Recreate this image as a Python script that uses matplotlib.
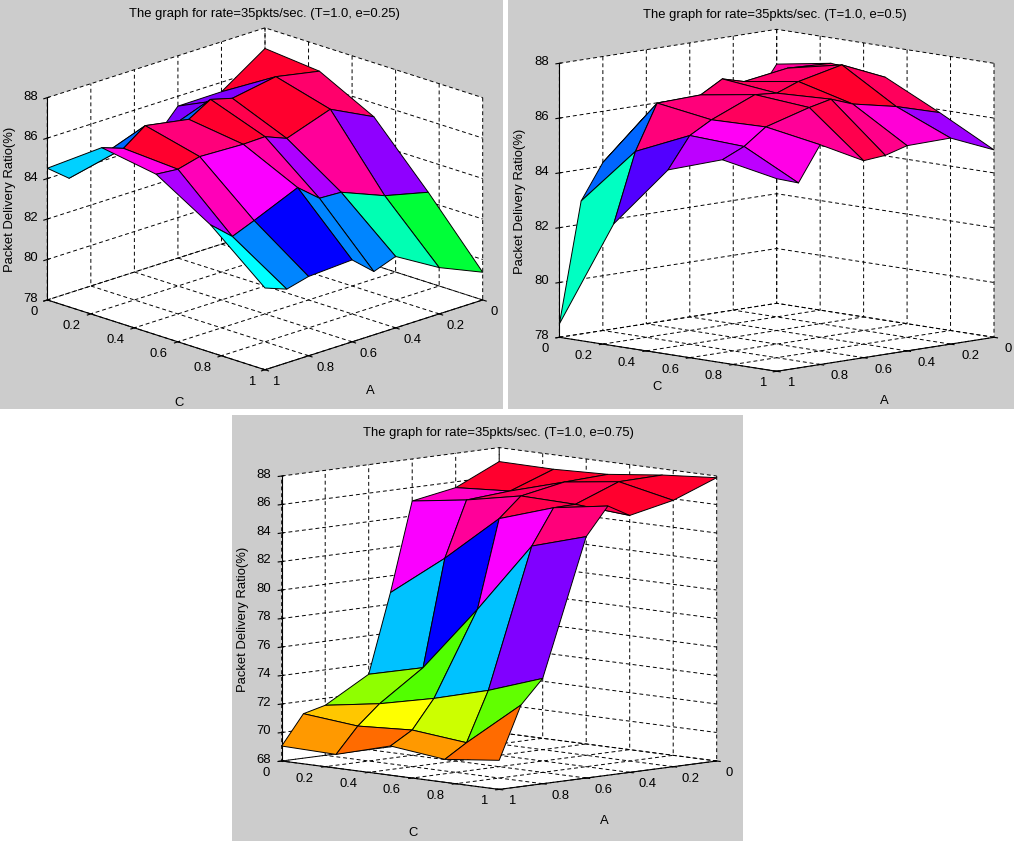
import matplotlib
matplotlib.use("Agg")
import matplotlib.pyplot as plt
import numpy as np
from matplotlib.colors import hsv_to_rgb
from matplotlib.patches import Rectangle
from matplotlib.ticker import NullFormatter
from mpl_toolkits.mplot3d import proj3d

W, H = 1014, 841

A_VALUES = [0, 0.2, 0.4, 0.5, 0.6, 0.8, 0.9, 1]
C_VALUES = [0, 0.25, 0.5, 0.75, 1]
TICKS = [0, 0.2, 0.4, 0.6, 0.8, 1]
TICK_LABELS = ["0", "0.2", "0.4", "0.6", "0.8", "1"]

# delivery ratio, one row per C value, one column per A value
Z_E025 = [
    [86.98, 85.53, 85.51, 84.34, 84.36, 84.08, 83.67, 84.51],
    [86.72, 87.14, 86.76, 87.05, 86.41, 86.79, 86.01, 86.39],
    [85.33, 86.39, 85.64, 86.07, 86.04, 86.12, 85.84, 85.94],
    [82.46, 82.98, 83.84, 83.89, 84.76, 83.82, 83.38, 84.30],
    [79.37, 80.29, 81.53, 81.13, 82.05, 81.92, 81.64, 82.04],
]
Z_E050 = [
    [86.73, 84.48, 84.46, 84.46, 85.62, 84.13, 82.85, 78.49],
    [87.07, 87.14, 86.90, 87.12, 86.66, 86.61, 84.97, 82.45],
    [86.87, 87.57, 87.21, 86.91, 86.98, 86.31, 85.86, 84.73],
    [85.89, 86.36, 86.70, 87.00, 86.82, 86.36, 85.77, 85.41],
    [84.84, 85.52, 85.49, 85.26, 85.19, 86.02, 84.75, 85.03],
]
Z_E075 = [
    [87.02, 85.59, 85.05, 78.82, 73.29, 71.51, 71.12, 69.05],
    [86.98, 85.85, 85.62, 81.73, 74.25, 72.12, 70.75, 68.96],
    [87.12, 86.98, 86.40, 85.01, 78.84, 72.99, 70.97, 70.05],
    [87.57, 87.50, 86.31, 86.27, 83.78, 74.05, 70.58, 69.61],
    [87.88, 86.69, 86.03, 86.89, 84.94, 75.39, 73.72, 70.04],
]

# hue of each quad, one row per C band, one column per A band
HUE_E025 = [
    [0.97, 0.75, 0.75, 0.60, 0.75, 0.60, 0.53],
    [0.93, 0.97, 0.95, 0.97, 0.92, 0.97, 0.85],
    [0.76, 0.90, 0.78, 0.89, 0.83, 0.88, 0.78],
    [0.37, 0.45, 0.58, 0.58, 0.667, 0.58, 0.50],
]
HUE_E050 = [
    [0.90, 0.90, 0.90, 0.93, 0.60, 0.60, 0.46],
    [0.93, 0.93, 0.94, 0.93, 0.92, 0.92, 0.72],
    [0.94, 0.97, 0.96, 0.93, 0.94, 0.84, 0.79],
    [0.77, 0.86, 0.91, 0.95, 0.90, 0.85, 0.79],
]
HUE_E075 = [
    [0.97, 0.87, 0.83, 0.54, 0.24, 0.13, 0.10],
    [0.97, 0.94, 0.90, 0.667, 0.28, 0.167, 0.07],
    [0.97, 0.95, 0.95, 0.83, 0.54, 0.20, 0.10],
    [0.97, 0.97, 0.95, 0.92, 0.75, 0.27, 0.07],
]

Z_TICKS_TOP = [78, 80, 82, 84, 86, 88]
Z_TICKS_BOTTOM = [68, 70, 72, 74, 76, 78, 80, 82, 84, 86, 88]

FONT_SIZE = 9.35

plt.rcParams["font.family"] = ["Liberation Sans", "DejaVu Sans"]
plt.rcParams["font.size"] = FONT_SIZE
plt.rcParams["grid.color"] = "black"
plt.rcParams["grid.linestyle"] = (0, (4, 3))
plt.rcParams["grid.linewidth"] = 0.7


def face_colors(hues):
    hues = np.array(hues)
    hsv = np.ones(hues.shape + (3,))
    hsv[..., 0] = hues
    rgb = hsv_to_rgb(hsv)
    # plot_surface wants one colour per vertex, the last row and column are unused
    return np.pad(rgb, ((0, 1), (0, 1), (0, 0)), mode="edge")


def tick_text(ax, x, y, z, text, dx, dy, ha):
    # Axis3D resets the tick label transforms on draw, so the labels are placed by hand
    px, py, _ = proj3d.proj_transform(x, y, z, ax.get_proj())
    ax.annotate(text, (px, py), xytext=(dx, dy), textcoords="offset pixels",
                ha=ha, va="center", fontsize=FONT_SIZE, annotation_clip=False)


def hide_native_texts(ax):
    for axis in (ax.xaxis, ax.yaxis, ax.zaxis):
        axis.set_major_formatter(NullFormatter())
        axis.label.set_visible(False)
        axis.offsetText.set_visible(False)
        for tick in axis.get_major_ticks():
            tick.label1.set_visible(False)
            tick.label2.set_visible(False)
    for title in (ax.title, ax._left_title, ax._right_title):
        title.set_visible(False)


def draw_panel(fig, rect, cx, cy, half_w, z_px, elev, z_vals, hues, z_ticks, title, labels, shifts):
    fig.add_artist(Rectangle((rect[0] / W, 1 - rect[3] / H), (rect[2] - rect[0]) / W,
                             (rect[3] - rect[1]) / H, transform=fig.transFigure,
                             facecolor="#cccccc", edgecolor="none", zorder=-5))

    side = half_w * np.sqrt(2)
    height = z_px / np.cos(np.radians(elev))
    ratio = height / side
    L = side * 1.85 * np.sqrt(2 + ratio ** 2) / (1.8294640721620434 * 25 / 24)

    # the projected box centre sits at 0.95/1.85 of the axes
    frac = 0.95 / 1.85
    ax = fig.add_axes([(cx - frac * L) / W, 1 - (cy + frac * L) / H, L / W, L / H],
                      projection="3d", proj_type="ortho")
    ax.patch.set_visible(False)
    ax.set_box_aspect((1, 1, ratio))
    ax.view_init(elev=elev, azim=45)

    a_grid, c_grid = np.meshgrid(A_VALUES, C_VALUES)
    ax.plot_surface(a_grid, c_grid, np.array(z_vals), rstride=1, cstride=1,
                    facecolors=face_colors(hues), shade=False,
                    edgecolor="black", linewidth=0.7, antialiased=True)

    ax.set_xlim(0, 1)
    ax.set_ylim(0, 1)
    ax.set_zlim(z_ticks[0], z_ticks[-1])
    ax.set_xticks(TICKS)
    ax.set_yticks(TICKS)
    ax.set_zticks(z_ticks)
    for axis in (ax.xaxis, ax.yaxis, ax.zaxis):
        axis.set_pane_color("white")
        axis.pane.set_edgecolor("none")
    hide_native_texts(ax)

    for tick, label in zip(TICKS, TICK_LABELS):
        tick_text(ax, tick, 1, z_ticks[0], label, shifts[0][0], shifts[0][1], "left")
        tick_text(ax, 1, tick, z_ticks[0], label, shifts[1][0], shifts[1][1], "right")
    for tick in z_ticks:
        tick_text(ax, 1, 0, tick, str(tick), shifts[2][0], shifts[2][1], "right")

    fig.text(title[0] / W, 1 - title[1] / H, title[2], ha="center", va="center")
    fig.text(labels[0][0] / W, 1 - labels[0][1] / H, "C", ha="center", va="center")
    fig.text(labels[1][0] / W, 1 - labels[1][1] / H, "A", ha="center", va="center")
    fig.text(labels[2][0] / W, 1 - labels[2][1] / H, "Packet Delivery Ratio(%)",
             ha="center", va="center", rotation=90)
    return ax


def main():
    fig = plt.figure(figsize=(W / 100, H / 100), dpi=100, facecolor="white")

    draw_panel(fig, (0, 0, 503, 409), 265, 198.8, 217.7, 202.3, 18.7, Z_E025, HUE_E025,
               Z_TICKS_TOP, (264, 14, "The graph for rate=35pkts/sec. (T=1.0, e=0.25)"),
               ((179, 403), (370, 391), (10, 199)), ((7.5, -12), (-10, -12), (-9.5, 1)))
    draw_panel(fig, (508, 0, 1014, 409), 776.7, 200.3, 217.3, 274, 9.0, Z_E050, HUE_E050,
               Z_TICKS_TOP, (775, 15, "The graph for rate=35pkts/sec. (T=1.0, e=0.5)"),
               ((657, 387), (884, 401), (520, 201)), ((10.5, -12), (-10.5, -12), (-10, 1)))
    draw_panel(fig, (232, 415, 743, 841), 499.2, 618.5, 217.5, 285, 7.5, Z_E075, HUE_E075,
               Z_TICKS_BOTTOM, (498, 433, "The graph for rate=35pkts/sec. (T=1.0, e=0.75)"),
               ((413, 833), (604, 821), (243, 619)), ((8.5, -12), (-11.5, -12), (-11, 1)))

    fig.savefig("out.png", dpi=100)


if __name__ == "__main__":
    main()
